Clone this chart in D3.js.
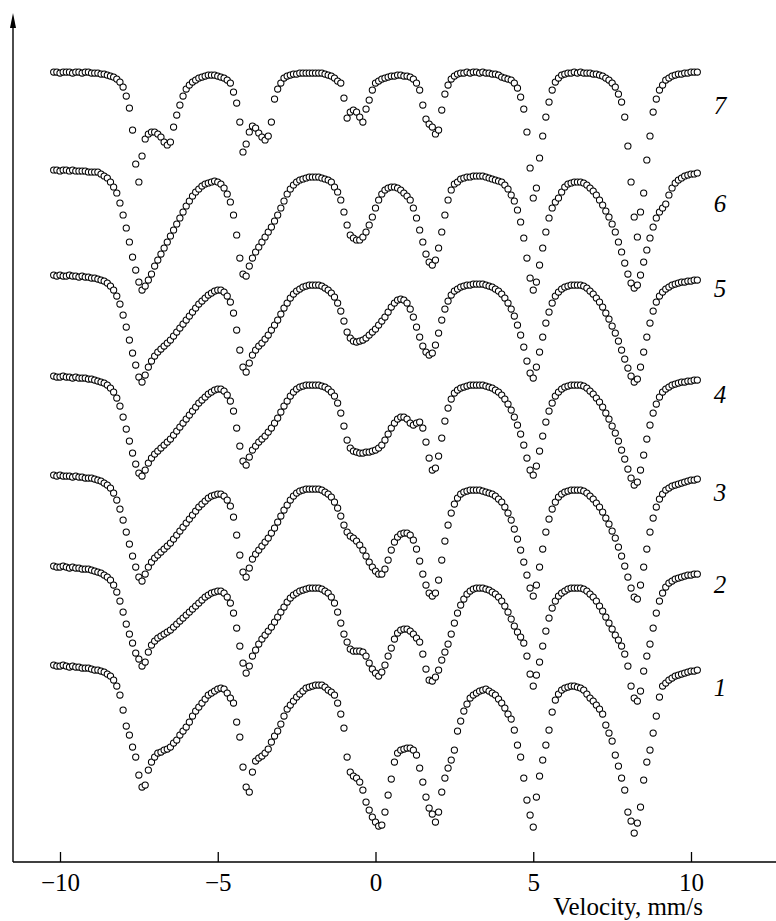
<!DOCTYPE html>
<html>
<head>
<meta charset="utf-8">
<script src="https://cdn.jsdelivr.net/npm/d3@7"></script>
<style>
  html, body { margin: 0; padding: 0; background: #fff; }
  svg { display: block; }
  text { font-family: "Liberation Serif", "Times New Roman", serif; fill: #000; }
</style>
</head>
<body>
<svg id="chart" width="776" height="921"></svg>
<script>
// channel grid of the spectrometer, mm/s
const velocityStart = -10.2;
const velocityStep = 0.1;

// absorption under each spectrum's own baseline, in 0.1 % units (205 channels)
const spectrum1 = [0,1,1,0,1,2,1,2,2,3,3,3,4,5,5,6,7,9,
  11,15,21,30,45,61,70,82,92,110,122,120,105,97,92,
  88,87,85,84,82,78,75,70,66,62,57,51,46,42,38,34,30,28,26,24,23,24,
  28,33,38,57,72,102,122,127,107,
  96,93,91,88,84,77,71,66,59,51,44,40,36,32,29,26,23,22,21,20,20,20,22,25,27,30,38,
  49,63,92,107,111,113,117,125,137,145,152,157,161,160,147,130,114,97,88,85,84,83,83,85,90,103,117,132,143,149,157,147,127,113,103,95,85,
  66,56,46,39,33,30,28,26,25,24,26,28,30,34,38,43,49,54,65,
  80,92,113,135,150,162,132,111,95,80,65,47,35,29,
  25,23,22,21,21,22,23,25,29,33,36,40,44,
  49,60,68,76,90,101,113,125,147,156,168,158,142,115,97,85,68,51,32,21,18,
  15,13,11,10,9,8,7,6,6,5];

const spectrum2 = [0,1,1,0,1,2,1,2,2,3,3,3,4,5,6,7,9,11,
  14,19,26,35,46,58,68,77,87,93,100,96,86,79,75,
  72,70,68,66,64,61,58,55,52,49,46,43,40,37,34,31,29,27,26,25,25,27,
  31,37,47,62,80,97,107,100,90,
  84,78,73,69,65,61,56,51,46,41,36,32,29,27,25,24,23,22,22,22,22,23,25,27,31,37,46,
  57,68,76,83,85,85,85,86,90,97,103,107,110,106,99,90,82,73,67,64,63,63,65,68,72,76,88,103,114,115,111,104,94,86,78,68,57,
  47,39,33,28,25,23,22,22,22,23,24,26,28,31,35,40,46,53,60,
  66,71,77,90,108,120,109,96,80,65,52,42,35,30,
  27,25,23,22,22,22,22,23,25,28,31,35,40,
  45,51,57,63,69,74,80,88,100,120,132,135,125,105,90,78,62,47,35,27,21,
  17,15,13,12,11,10,9,9,8,8];

const spectrum3 = [0,1,0,1,1,1,2,1,2,2,3,3,3,4,5,6,8,10,
  13,18,25,34,45,57,69,81,92,102,106,99,92,87,83,
  80,77,74,71,68,64,60,56,52,48,44,40,36,32,29,26,23,21,20,19,19,21,
  25,31,42,60,80,97,102,93,84,
  79,75,71,67,63,58,53,47,41,35,30,25,21,18,16,15,14,14,14,14,14,15,17,19,22,27,33,
  41,50,57,61,63,66,70,75,81,87,92,96,99,99,94,85,75,67,62,59,58,58,60,65,74,86,99,110,118,121,118,105,85,66,50,38,29,
  23,19,17,16,15,15,15,15,16,17,18,19,21,24,27,32,38,45,54,
  64,75,87,100,113,121,110,92,74,57,44,34,27,22,
  19,17,16,15,15,15,15,16,18,21,24,28,32,
  37,43,49,56,63,72,81,91,102,113,122,124,110,92,74,57,43,32,24,19,15,
  13,11,10,9,8,7,6,5,5,4];

const spectrum4 = [0,1,1,0,1,1,2,1,2,2,2,3,3,4,5,6,7,9,
  12,16,22,30,41,53,65,77,88,97,100,94,87,82,78,
  75,72,69,66,63,59,55,51,47,43,39,35,31,27,24,21,18,16,14,13,13,15,
  19,25,35,52,70,85,89,81,74,
  70,66,63,60,56,52,47,42,36,30,25,20,16,13,11,10,9,9,9,9,9,10,11,13,16,20,27,
  37,50,64,72,75,76,77,77,76,76,75,74,72,69,64,58,52,47,43,41,41,43,47,49,47,46,52,66,82,94,92,80,62,45,32,23,17,
  14,12,11,10,9,9,9,9,9,10,11,12,14,16,19,23,28,34,41,
  49,58,69,82,94,99,90,75,60,46,35,27,20,16,
  13,11,10,9,9,9,9,10,12,15,18,22,26,
  31,37,43,50,57,65,74,83,93,102,109,106,94,79,63,49,37,28,21,16,13,
  11,9,8,7,6,6,5,5,4,4];

const spectrum5 = [0,1,0,1,1,0,1,1,2,1,2,2,3,3,4,5,6,8,
  11,15,21,29,40,52,65,78,90,102,107,100,92,86,81,
  77,74,71,68,65,61,57,53,49,45,41,37,33,29,26,23,20,18,16,15,15,17,
  21,27,38,55,75,92,97,88,80,
  75,71,68,64,60,55,50,45,39,33,28,23,19,16,14,12,11,10,10,10,10,11,13,15,18,22,28,
  36,46,57,63,66,67,66,65,63,60,57,54,50,46,42,37,32,28,25,24,25,28,34,42,52,62,71,77,80,78,70,58,45,34,26,20,16,
  14,12,11,10,10,9,9,9,9,10,11,12,14,16,19,23,28,34,41,
  50,60,72,86,98,103,92,77,62,48,37,28,21,17,
  14,12,11,10,10,10,10,11,13,16,19,23,27,
  32,38,44,51,58,66,75,84,93,101,107,104,92,77,62,48,36,27,21,17,14,
  12,10,9,8,7,7,6,6,5,5];

const spectrum6 = [0,0,1,0,0,1,0,1,1,1,1,2,2,2,2,4,6,8,
  12,17,23,33,45,58,72,87,100,112,120,116,110,104,96,
  90,84,78,72,66,60,54,48,42,36,31,26,22,19,16,14,13,12,11,12,14,18,
  24,32,45,65,88,104,106,96,88,
  82,77,72,67,62,57,51,45,38,31,24,19,15,12,10,9,8,7,7,7,7,8,9,10,12,17,22,
  30,42,55,65,68,70,70,67,62,55,47,38,30,24,20,18,17,17,18,20,23,26,30,38,48,60,72,84,92,95,90,78,62,45,30,20,14,
  12,9,8,7,7,6,6,6,6,7,8,9,10,11,12,15,19,25,31,
  40,52,68,88,108,120,112,95,78,62,48,38,32,28,
  22,17,14,13,12,12,12,13,15,18,21,25,30,
  35,41,47,54,62,72,82,93,104,113,118,115,105,92,80,68,57,48,42,38,34,
  25,18,13,10,8,6,5,4,4,3];

const spectrum7 = [0,0,1,0,0,0,1,0,0,1,0,0,1,1,1,2,2,3,
  4,5,7,10,15,24,36,58,92,110,84,67,62,60,60,
  62,65,70,73,70,55,43,33,24,17,13,10,8,6,5,4,3,3,3,4,5,6,
  8,11,20,31,50,80,72,60,54,
  56,61,65,68,64,50,27,17,11,6,4,3,2,2,1,1,1,1,1,1,1,1,2,3,4,6,9,
  11,26,46,40,38,40,45,50,37,28,18,11,9,7,6,5,4,4,3,3,4,4,5,7,11,18,33,47,52,55,62,58,38,22,13,7,4,
  2,1,1,0,1,0,0,1,0,1,1,2,2,3,5,6,7,8,11,
  16,25,37,60,96,126,116,86,64,45,30,18,10,6,
  3,2,1,1,0,1,0,1,1,1,2,2,3,
  4,6,8,11,15,22,30,45,74,110,145,165,140,121,88,64,40,27,18,13,8,
  6,4,3,2,2,1,1,0,0,0];

const spectra = [spectrum1, spectrum2, spectrum3, spectrum4, spectrum5, spectrum6, spectrum7];
const spectrumNames = ["1", "2", "3", "4", "5", "6", "7"];
// vertical shift of each curve, %
const spectrumOffsets = [19.7, 29.6, 38.7, 48.6, 58.7, 69.2, 79.0];
const velocityTicks = [-10, -5, 0, 5, 10];

var svg = d3.select("#chart");
var axisX = 13, axisY = 862;

var x = d3.scaleLinear().domain([-10, 10]).range([60, 691]);
var y = d3.scaleLinear().domain([0, 84.9]).range([axisY, 13]);

// axes
svg.append("line")
  .attr("x1", axisX).attr("x2", 776)
  .attr("y1", axisY).attr("y2", axisY)
  .attr("stroke", "#000").attr("stroke-width", 1.4);
svg.append("line")
  .attr("x1", axisX).attr("x2", axisX)
  .attr("y1", axisY).attr("y2", 22)
  .attr("stroke", "#000").attr("stroke-width", 1.4);
svg.append("path")
  .attr("d", "M" + axisX + ",13 L" + (axisX - 3) + ",28 L" + (axisX + 3) + ",28 Z")
  .attr("fill", "#000");

var xAxis = svg.append("g")
  .attr("transform", "translate(0," + axisY + ")")
  .call(d3.axisBottom(x).tickValues(velocityTicks).tickSize(-10).tickSizeOuter(0).tickPadding(11));
xAxis.select(".domain").remove();
xAxis.selectAll(".tick line").attr("stroke", "#000").attr("stroke-width", 1.3);
xAxis.selectAll(".tick text")
  .attr("font-family", "Liberation Serif, serif")
  .attr("font-size", 25)
  .attr("fill", "#000");

svg.append("text")
  .attr("x", 703).attr("y", 915)
  .attr("text-anchor", "end")
  .attr("font-size", 25)
  .text("Velocity, mm/s");

// data points, open circles
spectra.forEach(function(s, k){
  var pts = s.map(function(a, i){
    return { v: velocityStart + i * velocityStep, t: spectrumOffsets[k] - a / 10 };
  });
  svg.append("g")
    .selectAll("circle")
    .data(pts)
    .enter().append("circle")
    .attr("cx", function(d){ return x(d.v); })
    .attr("cy", function(d){ return y(d.t); })
    .attr("r", 3.1)
    .attr("fill", "#fff")
    .attr("stroke", "#000")
    .attr("stroke-width", 1.05);
});

// curve numbers
var labelY = [687, 584, 492, 394, 288, 203, 105];
svg.selectAll(".num")
  .data(spectrumNames)
  .enter().append("text")
  .attr("class", "num")
  .attr("x", 720)
  .attr("y", function(d, i){ return labelY[i]; })
  .attr("dy", "0.35em")
  .attr("text-anchor", "middle")
  .attr("font-style", "italic")
  .attr("font-size", 25)
  .text(function(d){ return d; });
</script>
</body>
</html>
